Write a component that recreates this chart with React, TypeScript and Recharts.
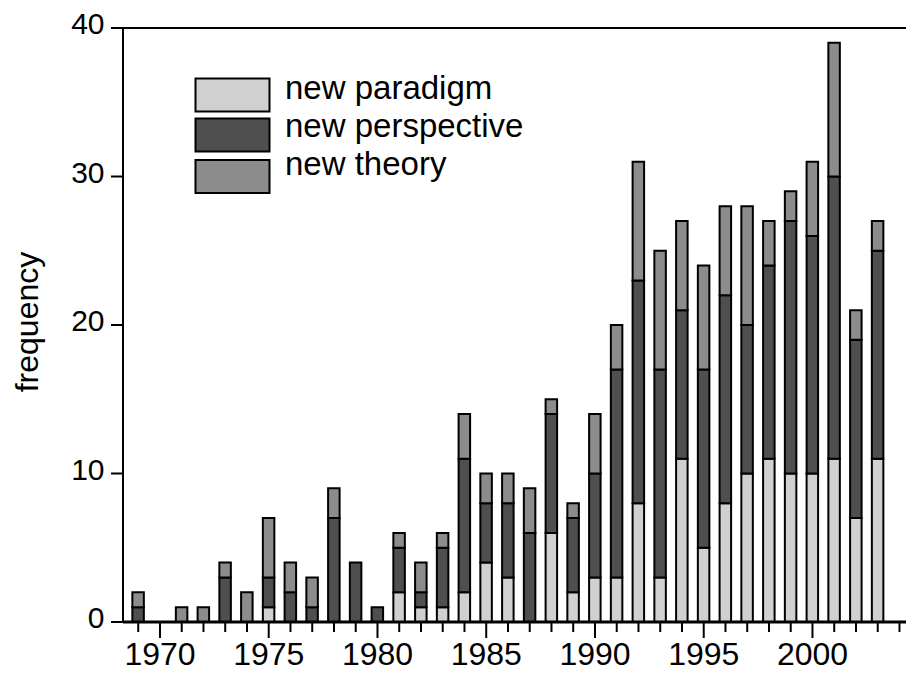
import React from 'react';
import { BarChart, Bar, XAxis, YAxis, Legend, ReferenceLine } from 'recharts';

const years = [
  1969, 1970, 1971, 1972, 1973, 1974, 1975, 1976, 1977, 1978, 1979, 1980,
  1981, 1982, 1983, 1984, 1985, 1986, 1987, 1988, 1989, 1990, 1991, 1992,
  1993, 1994, 1995, 1996, 1997, 1998, 1999, 2000, 2001, 2002, 2003,
];
const newParadigm = [
  0, 0, 0, 0, 0, 0, 1, 0, 0, 0, 0, 0, 2, 1, 1, 2, 4, 3, 0, 6, 2, 3, 3, 8, 3,
  11, 5, 8, 10, 11, 10, 10, 11, 7, 11,
];
const newPerspective = [
  1, 0, 0, 0, 3, 0, 2, 2, 1, 7, 4, 1, 3, 1, 4, 9, 4, 5, 6, 8, 5, 7, 14, 15, 14,
  10, 12, 14, 10, 13, 17, 16, 19, 12, 14,
];
const newTheory = [
  1, 0, 1, 1, 1, 2, 4, 2, 2, 2, 0, 0, 1, 2, 1, 3, 2, 2, 3, 1, 1, 4, 3, 8, 8, 6,
  7, 6, 8, 3, 2, 5, 9, 2, 2,
];
const xTickYears = [
  1969, 1970, 1971, 1972, 1973, 1974, 1975, 1976, 1977, 1978, 1979, 1980,
  1981, 1982, 1983, 1984, 1985, 1986, 1987, 1988, 1989, 1990, 1991, 1992,
  1993, 1994, 1995, 1996, 1997, 1998, 1999, 2000, 2001, 2002, 2003, 2004,
];
const yTicks = [0, 10, 20, 30, 40];
const seriesNames = ['new paradigm', 'new perspective', 'new theory'];
const seriesKeys = ['paradigm', 'perspective', 'theory'];
const seriesColors = ['#d0d0d0', '#4f4f4f', '#8c8c8c'];

const data = years.map((y, i) => ({
  year: y,
  paradigm: newParadigm[i],
  perspective: newPerspective[i],
  theory: newTheory[i],
}));

const FONT = '"Liberation Sans", Arial, sans-serif';

const XTick = (props: any) => {
  const { x, y, payload } = props;
  const v = payload.value;
  const major = v % 5 === 0;
  return (
    <g>
      <line x1={x} x2={x} y1={y} y2={y + (major ? 16 : 10)} stroke="#000" strokeWidth={2} />
      {major && (
        <text x={x} y={y + 43} textAnchor="middle" fontSize={32} fontFamily={FONT} fill="#000">
          {v}
        </text>
      )}
    </g>
  );
};

const YTick = (props: any) => {
  const { x, y, payload } = props;
  return (
    <g>
      <line x1={x - 12} x2={x} y1={y} y2={y} stroke="#000" strokeWidth={2} />
      <text x={x - 18.5} y={y + 6} textAnchor="end" fontSize={30} fontFamily={FONT} fill="#000">
        {payload.value}
      </text>
    </g>
  );
};

const boxTops = [78.5, 118.5, 160];
const textBaselines = [98.5, 137, 175];

const LegendContent = () => (
  <svg width={906} height={673} style={{ position: 'absolute', left: 0, top: 0, overflow: 'visible' }}>
    {seriesNames.map((name, i) => (
      <g key={name}>
        <rect x={195.5} y={boxTops[i]} width={74} height={33} fill={seriesColors[i]} stroke="#000" strokeWidth={2} />
        <text x={285} y={textBaselines[i]} fontSize={33} fontFamily={FONT} fill="#000">
          {name}
        </text>
      </g>
    ))}
  </svg>
);

const YLabel = (props: any) => {
  const vb = props.viewBox || { y: 28, height: 594 };
  const cy = vb.y + vb.height / 2 - 3;
  return (
    <text
      x={38}
      y={cy}
      transform={`rotate(-90, 38, ${cy})`}
      textAnchor="middle"
      fontSize={32}
      fontFamily={FONT}
      fill="#000"
    >
      frequency
    </text>
  );
};

export default function App() {
  return (
    <div
      style={{
        position: 'fixed',
        left: 0,
        top: 0,
        width: 906,
        height: 673,
        overflow: 'hidden',
        background: '#fff',
      }}
    >
      <BarChart
        width={906}
        height={673}
        data={data}
        margin={{ top: 28, right: 0, bottom: 0, left: 0 }}
        barSize={11.5}
      >
        <XAxis
          type="number"
          dataKey="year"
          domain={[1968.3, 2004.3]}
          allowDataOverflow
          ticks={xTickYears}
          interval={0}
          height={51}
          tickSize={0}
          tickMargin={0}
          tick={<XTick />}
          axisLine={{ stroke: '#000', strokeWidth: 3 }}
        />
        <YAxis
          type="number"
          domain={[0, 40]}
          ticks={yTicks}
          interval={0}
          width={123}
          tickSize={0}
          tickMargin={0}
          tick={<YTick />}
          axisLine={{ stroke: '#000', strokeWidth: 2 }}
          label={<YLabel />}
        />
        <ReferenceLine y={40} stroke="#000" strokeWidth={2} />
        {seriesKeys.map((k, i) => (
          <Bar
            key={k}
            dataKey={k}
            name={seriesNames[i]}
            stackId="a"
            fill={seriesColors[i]}
            stroke="#000"
            strokeWidth={2}
            isAnimationActive={false}
          />
        ))}
        <Legend
          verticalAlign="middle"
          align="center"
          wrapperStyle={{ position: 'absolute', left: 0, top: 0, width: 0, height: 0, overflow: 'visible' }}
          content={<LegendContent />}
        />
      </BarChart>
    </div>
  );
}
